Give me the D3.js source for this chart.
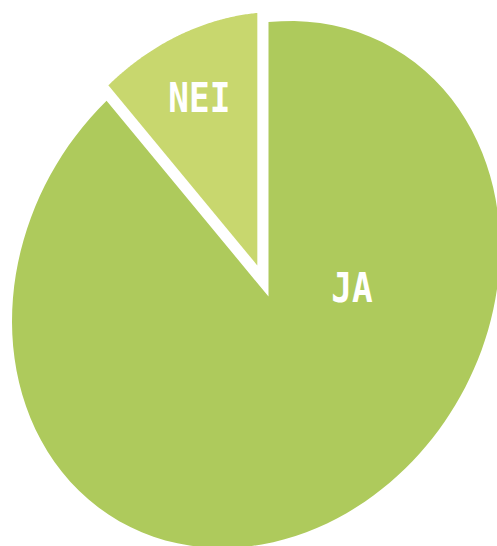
<!DOCTYPE html>
<html>
<head>
<meta charset="utf-8">
<script src="https://cdn.jsdelivr.net/npm/d3@7"></script>
<style>
  html, body { margin: 0; padding: 0; background: #fff; }
  svg { display: block; }
</style>
</head>
<body>
<svg id="chart" width="497" height="546"></svg>
<script>
// Ja / Nei pie (tilted, NEI pulled out)

var labels = ["JA", "NEI"];
var values = [89, 11];
var colors = ["#aeca5c", "#c8d76e"];

var width = 497, height = 546;

// pie vertex and the outline ellipse it sits in (seen slightly in perspective)
var vx = 268.5, vy = 296.5;
var ecx = 256, ecy = 284.5;
var sxx = 59536, syy = 69432, sxy = -8959;

var det = sxx * syy - sxy * sxy;
var q11 = syy / det, q22 = sxx / det, q12 = -sxy / det;

// distance from the vertex to the outline, along pie angle a
function radiusAt(a) {
  var ux = Math.sin(a), uy = -Math.cos(a);
  var wx = vx - ecx, wy = vy - ecy;
  var A = ux * (q11 * ux + q12 * uy) + uy * (q12 * ux + q22 * uy);
  var B = ux * (q11 * wx + q12 * wy) + uy * (q12 * wx + q22 * wy);
  var C = wx * (q11 * wx + q12 * wy) + wy * (q12 * wx + q22 * wy) - 1;
  return (-B + Math.sqrt(B * B - A * C)) / A;
}

var pie = d3.pie().sort(null).value(function (d) { return d; });
var arcs = pie(values);

var line = d3.lineRadial()
  .angle(function (p) { return p[0]; })
  .radius(function (p) { return p[1]; });

function slicePath(d) {
  var pts = [[d.startAngle, 0]];
  var n = 120;
  for (var i = 0; i <= n; i++) {
    var a = d.startAngle + (d.endAngle - d.startAngle) * i / n;
    pts.push([a, radiusAt(a)]);
  }
  return line(pts) + "Z";
}

var svg = d3.select("#chart");
svg.append("rect").attr("width", width).attr("height", height).attr("fill", "#fff");

// exploded slices move along their mid angle and shrink a bit (further away)
var explode = [0, 33];
var shrink = [1, 0.92];
// label spot: angle (deg) and distance from the slice vertex
var labelPos = [[84, 84], [-19, 178]];

var slices = svg.selectAll("g.slice")
  .data(arcs)
  .enter().append("g")
  .attr("class", "slice")
  .attr("transform", function (d, i) {
    var mid = (d.startAngle + d.endAngle) / 2;
    var ox = vx + Math.sin(mid) * explode[i];
    var oy = vy - Math.cos(mid) * explode[i];
    return "translate(" + ox + "," + oy + ")";
  });

slices.append("path")
  .attr("d", slicePath)
  .attr("transform", function (d, i) { return "scale(" + shrink[i] + ")"; })
  .attr("fill", function (d, i) { return colors[i]; });

slices.append("text")
  .attr("transform", function (d, i) {
    var a = labelPos[i][0] * Math.PI / 180;
    var x = Math.sin(a) * labelPos[i][1];
    var y = -Math.cos(a) * labelPos[i][1];
    return "translate(" + x + "," + y + ") scale(0.86,1)";
  })
  .attr("dy", "0.36em")
  .attr("text-anchor", "middle")
  .attr("fill", "#fff")
  .style("font-family", "'DejaVu Sans Mono', monospace")
  .style("font-weight", "bold")
  .style("font-size", "40px")
  .text(function (d, i) { return labels[i]; });
</script>
</body>
</html>
